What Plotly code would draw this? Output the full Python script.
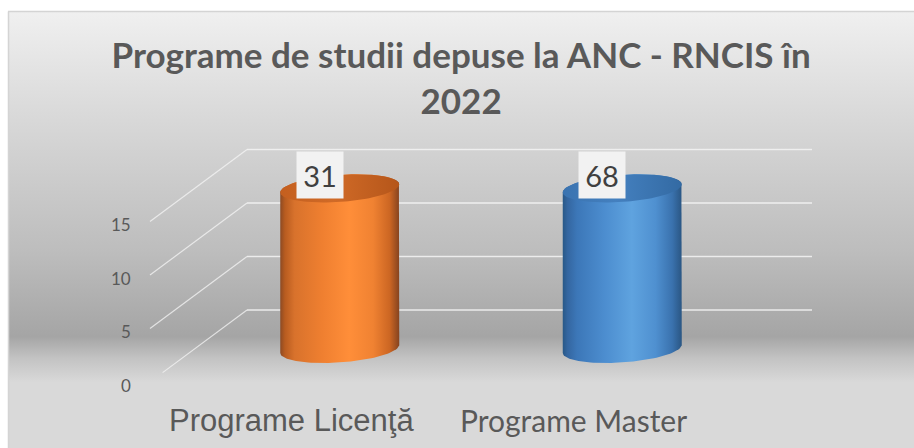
import numpy as np
import plotly.graph_objects as go

# ---------------- data ----------------
categories = ["Programe Licenţă", "Programe Master"]
values = [31, 68]
tick_values = [0, 5, 10, 15]
tick_labels = ["0", "5", "10", "15"]
axis_max = 15
title_text = "Programe de studii depuse la ANC - RNCIS în<br>2022"

# ---------------- layout geometry (pixels -> axis units) ----------------
W, H = 914, 448
FRONT_LEFT_PX = 150.0   # pixel x of front-left corner of floor
CAT_PX = 282.5          # pixels per category
ZERO_PY = 382.0         # pixel y of value 0 at the front
UNIT_PY = 10.7          # pixels per value unit


def x_of_px(px):
    return (px - FRONT_LEFT_PX) / CAT_PX - 0.5


def v_of_py(py):
    return (ZERO_PY - py) / UNIT_PY


DX = 97 / CAT_PX        # depth offset (x)
DY = 72 / UNIT_PY       # depth offset (value)

fig = go.Figure()

# ---------------- background gradient ----------------
bx0, bx1 = x_of_px(8), x_of_px(W)
by0, by1 = v_of_py(H), v_of_py(11)
fig.add_trace(go.Scatter(
    x=[bx0, bx1, bx1, bx0, bx0], y=[by0, by0, by1, by1, by0],
    mode="lines", line=dict(width=0), fill="toself",
    fillgradient=dict(type="vertical", start=by0, stop=by1,
                      colorscale=[[0, "#d9d9d9"], [0.15, "#d9d9d9"],
                                  [0.205, "#c3c3c3"], [0.255, "#a5a5a5"],
                                  [0.45, "#bdbdbd"], [0.75, "#d8d8d8"],
                                  [1, "#f0f0f0"]]),
    hoverinfo="skip", showlegend=False))

# ---------------- gridlines (side wall + back wall) ----------------
gx_side, gy_side, gx_back, gy_back = [], [], [], []
n_cat = len(categories)
for v in tick_values:
    start = 0.13 if v == 0 else 0.0   # front of the floor line fades out
    gx_side += [-0.5 + start * DX, -0.5 + DX, None]
    gy_side += [v + start * DY, v + DY, None]
    gx_back += [-0.5 + DX, n_cat - 0.5 + DX, None]
    gy_back += [v + DY, v + DY, None]
fig.add_trace(go.Scatter(x=gx_side, y=gy_side, mode="lines",
                         line=dict(color="rgba(245,245,245,0.75)", width=1.2),
                         hoverinfo="skip", showlegend=False))
fig.add_trace(go.Scatter(x=gx_back, y=gy_back, mode="lines",
                         line=dict(color="rgba(245,245,245,0.85)", width=1.3),
                         hoverinfo="skip", showlegend=False))

# ---------------- cylinders ----------------
body_scales = [
    [[0, "#8d4a23"], [0.04, "#b85c20"], [0.12, "#d8722c"], [0.35, "#ef7f30"],
     [0.58, "#ff8e39"], [0.78, "#f08232"], [0.92, "#cc6623"], [1, "#85431f"]],
    [[0, "#285887"], [0.04, "#3466a0"], [0.12, "#3c77b8"], [0.35, "#4c8dcf"],
     [0.58, "#5fa3df"], [0.78, "#4f90d0"], [0.92, "#3a72ae"], [1, "#2a5683"]],
]
top_scales = [
    [[0, "#c45f1f"], [0.45, "#d06a27"], [1, "#b5561a"]],
    [[0, "#3a73b0"], [0.45, "#4480bf"], [1, "#336aa3"]],
]
RX = 59.5 / CAT_PX
RY = 13.5 / UNIT_PY
SHEAR = 4.0 / UNIT_PY
BASE = 0.46 * DY
t_low = np.linspace(np.pi, 2 * np.pi, 60)
t_up = np.linspace(0, np.pi, 60)
t_all = np.linspace(0, 2 * np.pi, 120)

for i, val in enumerate(values):
    h = min(val, axis_max)
    xc = i + 0.5 * DX
    vb, vt = BASE, BASE + h
    xs = list(xc + RX * np.cos(t_low)) + list(xc + RX * np.cos(t_up))
    ys = list(vb + RY * np.sin(t_low) + SHEAR * np.cos(t_low)) + \
         list(vt + RY * np.sin(t_up) + SHEAR * np.cos(t_up))
    xs.append(xs[0]); ys.append(ys[0])
    fig.add_trace(go.Scatter(
        x=xs, y=ys, mode="lines", line=dict(width=0), fill="toself",
        fillgradient=dict(type="horizontal", colorscale=body_scales[i]),
        hoverinfo="skip", showlegend=False))
    fig.add_trace(go.Scatter(
        x=xc + RX * np.cos(t_all),
        y=vt + RY * np.sin(t_all) + SHEAR * np.cos(t_all),
        mode="lines", line=dict(width=0), fill="toself",
        fillgradient=dict(type="horizontal", colorscale=top_scales[i]),
        hoverinfo="skip", showlegend=False))
    # data label
    fig.add_annotation(x=i + 0.1, y=vt + 1.25, text=str(val), showarrow=False,
                       font=dict(family="Lato", size=29, color="#404040"),
                       bgcolor="#f2f2f2", width=44, height=44,
                       xanchor="center", yanchor="middle")

# ---------------- value axis labels ----------------
for v, lab in zip(tick_values, tick_labels):
    fig.add_annotation(x=x_of_px(133), y=v, text=lab, showarrow=False,
                       xanchor="right", yanchor="middle", yshift=-3,
                       font=dict(family="Lato", size=17, color="#595959"))

# ---------------- category labels ----------------
cat_fonts = [dict(family="Liberation Sans", size=31, color="#595959"),
             dict(family="Lato", size=30, color="#595959")]
for i, c in enumerate(categories):
    fig.add_annotation(x=i, y=v_of_py(420), text=c, showarrow=False,
                       xanchor="center", yanchor="middle", font=cat_fonts[i])

# ---------------- chart border ----------------
fig.add_shape(type="line", xref="paper", yref="paper",
              x0=8 / W, x1=1, y0=1 - 11.5 / H, y1=1 - 11.5 / H,
              line=dict(color="#d4d4d4", width=1.5))
fig.add_shape(type="line", xref="paper", yref="paper",
              x0=8.5 / W, x1=8.5 / W, y0=0, y1=1 - 11.5 / H,
              line=dict(color="#d4d4d4", width=1.5))

fig.update_layout(
    width=W, height=H,
    margin=dict(l=0, r=0, t=0, b=0),
    paper_bgcolor="white", plot_bgcolor="white",
    showlegend=False,
    title=dict(text=title_text, x=0.5045, xanchor="center",
               y=1 - 68 / H, yanchor="top",
               font=dict(family="Lato", size=35, color="#595959", weight="bold")),
    xaxis=dict(range=[x_of_px(0), x_of_px(W)], visible=False, fixedrange=True),
    yaxis=dict(range=[v_of_py(H), v_of_py(0)], visible=False, fixedrange=True),
)

fig.write_html("out.html", config={"displayModeBar": False},
               post_script="document.body.style.margin='0';document.body.style.overflow='hidden';")
